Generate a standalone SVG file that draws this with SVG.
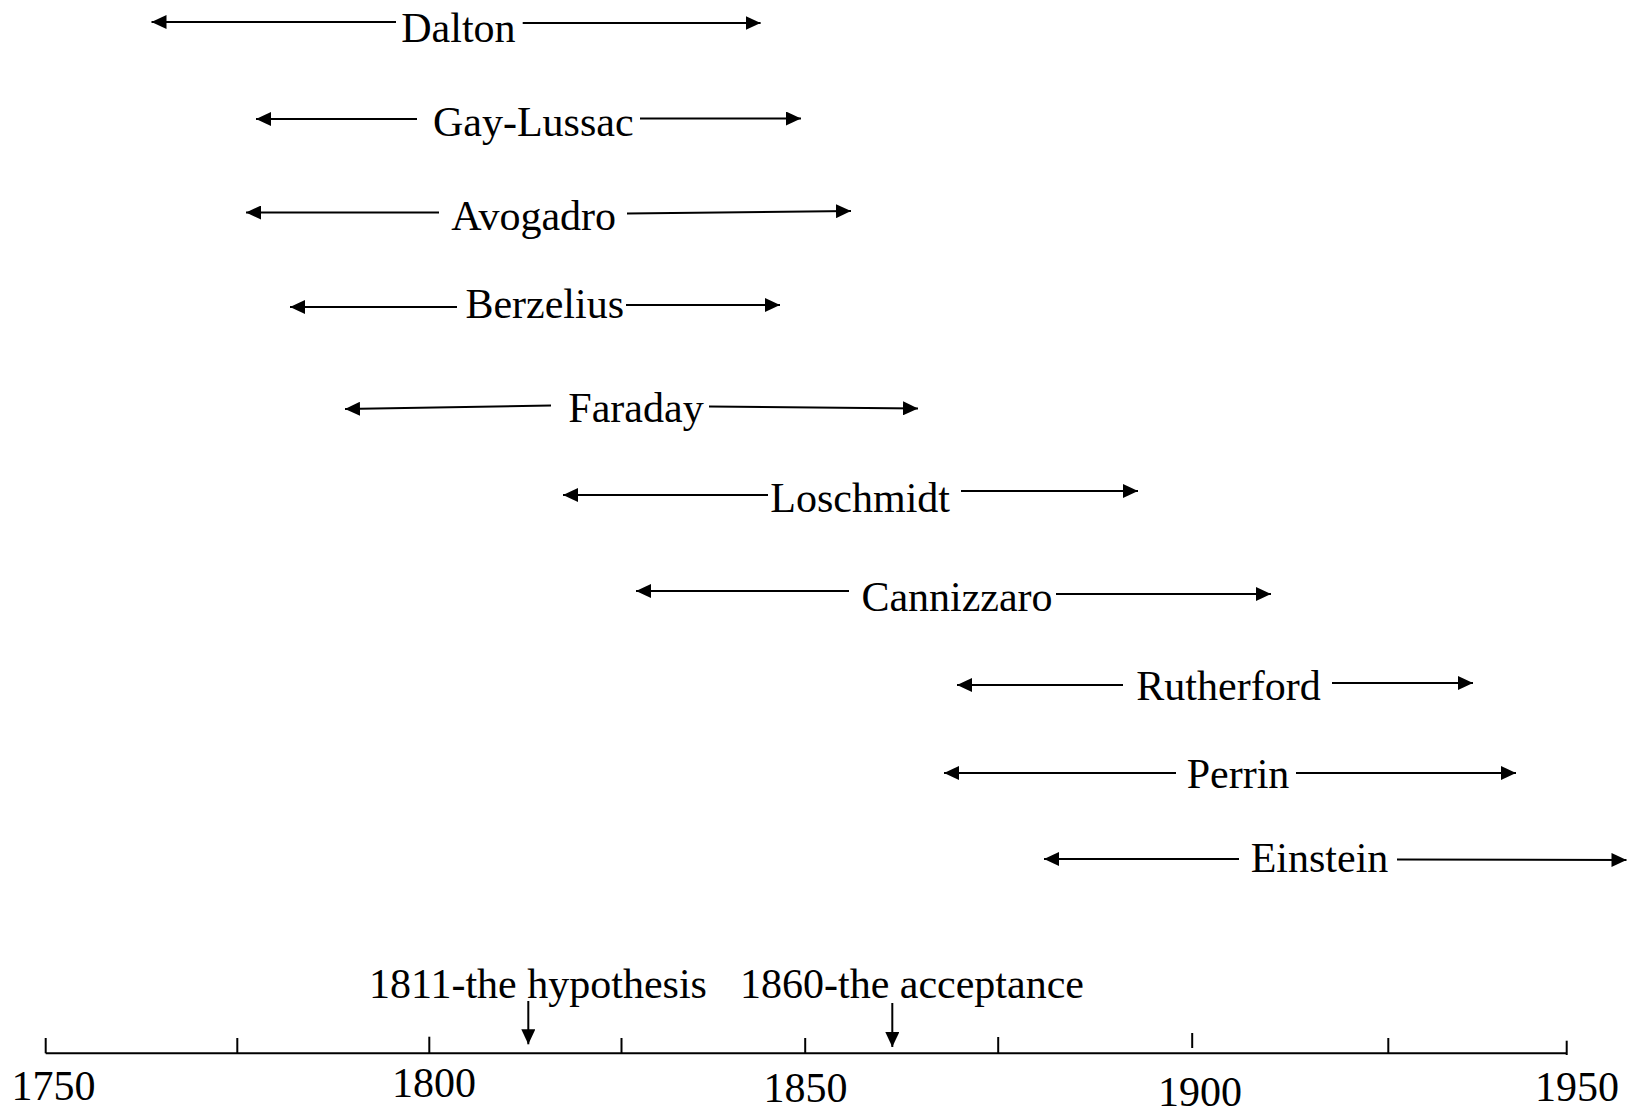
<svg xmlns="http://www.w3.org/2000/svg" width="1627" height="1120" viewBox="0 0 1627 1120">
<style>
  .lbl { font-family: "Liberation Serif", "Times New Roman", serif; font-size: 42px; fill: #000; }
  .mid { text-anchor: middle; }
  .conn { stroke: #000; stroke-width: 2; fill: none; }
  .ax { stroke: #000; stroke-width: 2; fill: none; }
</style>
<defs>
  <marker id="ah" viewBox="0 0 15 14" refX="15" refY="7" markerWidth="15" markerHeight="14" markerUnits="userSpaceOnUse" orient="auto-start-reverse">
    <path d="M0,0 L15,7 L0,14 Z" fill="#000"/>
  </marker>
</defs>
<rect width="1627" height="1120" fill="#fff"/>

<g id="nodes">
  <g id="dalton"><text class="lbl mid" x="458.4" y="42.3">Dalton</text></g>
  <g id="gay-lussac"><text class="lbl mid" x="533.3" y="136">Gay-Lussac</text></g>
  <g id="avogadro"><text class="lbl mid" x="533.7" y="230">Avogadro</text></g>
  <g id="berzelius"><text class="lbl mid" x="544.7" y="318">Berzelius</text></g>
  <g id="faraday"><text class="lbl mid" x="636" y="421.5">Faraday</text></g>
  <g id="loschmidt"><text class="lbl mid" x="860.2" y="511.5">Loschmidt</text></g>
  <g id="cannizzaro"><text class="lbl mid" x="957" y="611">Cannizzaro</text></g>
  <g id="rutherford"><text class="lbl mid" x="1228.5" y="700">Rutherford</text></g>
  <g id="perrin"><text class="lbl mid" x="1238" y="787.5">Perrin</text></g>
  <g id="einstein"><text class="lbl mid" x="1319.5" y="872">Einstein</text></g>
  <g id="hypothesis"><text class="lbl" x="369" y="998">1811-the hypothesis</text></g>
  <g id="acceptance"><text class="lbl" x="740" y="998">1860-the acceptance</text></g>
</g>

<g id="axis">
  <line class="ax" x1="45.7" y1="1053.3" x2="1566.7" y2="1053.3"/>
  <line class="ax" x1="45.7" y1="1038" x2="45.7" y2="1053.3"/>
  <line class="ax" x1="237.3" y1="1038" x2="237.3" y2="1053.3"/>
  <line class="ax" x1="429.3" y1="1036.7" x2="429.3" y2="1053.3"/>
  <line class="ax" x1="621.5" y1="1038" x2="621.5" y2="1053.3"/>
  <line class="ax" x1="805.2" y1="1038" x2="805.2" y2="1053.3"/>
  <line class="ax" x1="998.2" y1="1037" x2="998.2" y2="1053.3"/>
  <line class="ax" x1="1192.2" y1="1033" x2="1192.2" y2="1048"/>
  <line class="ax" x1="1388.3" y1="1038" x2="1388.3" y2="1053.3"/>
  <line class="ax" x1="1566.7" y1="1040.7" x2="1566.7" y2="1055"/>
  <text class="lbl" x="11.5" y="1100">1750</text>
  <text class="lbl" x="392" y="1097">1800</text>
  <text class="lbl" x="763.5" y="1102">1850</text>
  <text class="lbl" x="1158" y="1106">1900</text>
  <text class="lbl" x="1535" y="1101">1950</text>
</g>

<g id="connectors">
  <line class="conn" x1="151.5" y1="22" x2="396" y2="22" marker-start="url(#ah)"/>
  <line class="conn" x1="522.7" y1="23" x2="760.6" y2="23" marker-end="url(#ah)"/>

  <line class="conn" x1="256" y1="119" x2="417" y2="119" marker-start="url(#ah)"/>
  <line class="conn" x1="640" y1="118.5" x2="801" y2="118.5" marker-end="url(#ah)"/>

  <line class="conn" x1="246" y1="212.5" x2="439" y2="212.5" marker-start="url(#ah)"/>
  <line class="conn" x1="627" y1="213.5" x2="851" y2="211" marker-end="url(#ah)"/>

  <line class="conn" x1="290" y1="307" x2="457" y2="307" marker-start="url(#ah)"/>
  <line class="conn" x1="626" y1="305" x2="780" y2="305" marker-end="url(#ah)"/>

  <line class="conn" x1="345" y1="409" x2="551" y2="405.5" marker-start="url(#ah)"/>
  <line class="conn" x1="709" y1="406.5" x2="918" y2="408.5" marker-end="url(#ah)"/>

  <line class="conn" x1="563" y1="495" x2="768" y2="495" marker-start="url(#ah)"/>
  <line class="conn" x1="961" y1="491" x2="1138" y2="491" marker-end="url(#ah)"/>

  <line class="conn" x1="636" y1="591" x2="849" y2="591" marker-start="url(#ah)"/>
  <line class="conn" x1="1056" y1="594" x2="1271" y2="594" marker-end="url(#ah)"/>

  <line class="conn" x1="957" y1="685" x2="1123" y2="685" marker-start="url(#ah)"/>
  <line class="conn" x1="1332" y1="683" x2="1473" y2="683" marker-end="url(#ah)"/>

  <line class="conn" x1="944" y1="773" x2="1176" y2="773" marker-start="url(#ah)"/>
  <line class="conn" x1="1296" y1="773" x2="1516" y2="773" marker-end="url(#ah)"/>

  <line class="conn" x1="1044" y1="859" x2="1239" y2="859" marker-start="url(#ah)"/>
  <line class="conn" x1="1397" y1="859.5" x2="1626.5" y2="860" marker-end="url(#ah)"/>

  <line class="conn" x1="528.3" y1="1001" x2="528.3" y2="1044.3" marker-end="url(#ah)"/>
  <line class="conn" x1="892.3" y1="1003" x2="892.3" y2="1047" marker-end="url(#ah)"/>
</g>
</svg>
